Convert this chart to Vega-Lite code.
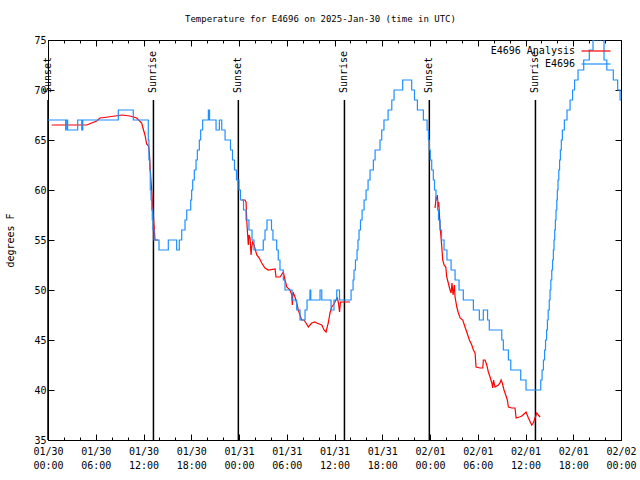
{
"$schema": "https://vega.github.io/schema/vega-lite/v6.json",
"autosize": {"type": "none"},
"padding": {"left": 48, "top": 40, "right": 19, "bottom": 40},
"width": 573,
"height": 400,
"background": "white",
"title": {"text": "Temperature for E4696 on 2025-Jan-30 (time in UTC)", "font": "DejaVu Sans Mono", "fontSize": 9, "fontWeight": "normal", "color": "black", "offset": 11, "dx": -14},
"config": {"view": {"stroke": "black", "strokeWidth": 1}, "font": "DejaVu Sans Mono"},
"datasets": {
"sun": [
{"t": "2025-01-30T00:00Z", "e": "Sunset"},
{"t": "2025-01-30T13:15Z", "e": "Sunrise"},
{"t": "2025-01-30T23:55Z", "e": "Sunset"},
{"t": "2025-01-31T13:15Z", "e": "Sunrise"},
{"t": "2025-01-31T23:55Z", "e": "Sunset"},
{"t": "2025-02-01T13:15Z", "e": "Sunrise"}
],
"ana": [
{"t":"2025-01-30T00:28Z","v":66.5,"s":1},{"t":"2025-01-30T04:52Z","v":66.5,"s":1},{"t":"2025-01-30T05:29Z","v":66.7,"s":1},{"t":"2025-01-30T06:07Z","v":66.9,"s":1},{"t":"2025-01-30T06:32Z","v":67.2,"s":1},{"t":"2025-01-30T07:32Z","v":67.3,"s":1},{"t":"2025-01-30T08:25Z","v":67.4,"s":1},{"t":"2025-01-30T09:16Z","v":67.5,"s":1},{"t":"2025-01-30T10:18Z","v":67.4,"s":1},{"t":"2025-01-30T11:09Z","v":67.2,"s":1},{"t":"2025-01-30T11:46Z","v":66.7,"s":1},{"t":"2025-01-30T11:56Z","v":66.2,"s":1},{"t":"2025-01-30T12:11Z","v":65.5,"s":1},{"t":"2025-01-30T12:24Z","v":64.6,"s":1},{"t":"2025-01-30T12:38Z","v":64.4,"s":1},{"t":"2025-01-30T12:45Z","v":63.6,"s":1},{"t":"2025-01-30T12:51Z","v":62,"s":1},{"t":"2025-01-30T12:59Z","v":60.5,"s":1},{"t":"2025-01-30T13:06Z","v":59,"s":1},{"t":"2025-01-30T13:12Z","v":58,"s":1},{"t":"2025-01-30T13:19Z","v":56.5,"s":1},{"t":"2025-01-30T13:27Z","v":55,"s":1},{"t":"2025-01-30T13:49Z","v":55,"s":1},
{"t":"2025-01-31T00:20Z","v":59,"s":2},{"t":"2025-01-31T00:45Z","v":59,"s":2},{"t":"2025-01-31T00:53Z","v":58.8,"s":2},{"t":"2025-01-31T00:59Z","v":56.8,"s":2},{"t":"2025-01-31T01:10Z","v":54.5,"s":2},{"t":"2025-01-31T01:15Z","v":55.5,"s":2},{"t":"2025-01-31T01:23Z","v":55.2,"s":2},{"t":"2025-01-31T01:31Z","v":53.5,"s":2},{"t":"2025-01-31T01:36Z","v":54.3,"s":2},{"t":"2025-01-31T01:43Z","v":54.8,"s":2},{"t":"2025-01-31T01:53Z","v":54.5,"s":2},{"t":"2025-01-31T02:14Z","v":53.5,"s":2},{"t":"2025-01-31T02:33Z","v":53.2,"s":2},{"t":"2025-01-31T02:51Z","v":52.7,"s":2},{"t":"2025-01-31T03:16Z","v":52.2,"s":2},{"t":"2025-01-31T03:41Z","v":52,"s":2},{"t":"2025-01-31T04:32Z","v":52.1,"s":2},{"t":"2025-01-31T04:39Z","v":51.3,"s":2},{"t":"2025-01-31T05:09Z","v":51.3,"s":2},{"t":"2025-01-31T05:34Z","v":51.8,"s":2},{"t":"2025-01-31T05:47Z","v":51,"s":2},{"t":"2025-01-31T06:00Z","v":50.3,"s":2},{"t":"2025-01-31T06:25Z","v":50,"s":2},{"t":"2025-01-31T06:38Z","v":49.5,"s":2},{"t":"2025-01-31T06:42Z","v":48.5,"s":2},{"t":"2025-01-31T06:47Z","v":49.8,"s":2},{"t":"2025-01-31T07:02Z","v":49.3,"s":2},{"t":"2025-01-31T07:15Z","v":48.7,"s":2},{"t":"2025-01-31T07:27Z","v":48,"s":2},{"t":"2025-01-31T07:45Z","v":47.3,"s":2},{"t":"2025-01-31T07:53Z","v":47,"s":2},{"t":"2025-01-31T08:10Z","v":47,"s":2},{"t":"2025-01-31T08:25Z","v":46.7,"s":2},{"t":"2025-01-31T08:43Z","v":46.3,"s":2},{"t":"2025-01-31T09:08Z","v":46.7,"s":2},{"t":"2025-01-31T09:33Z","v":46.8,"s":2},{"t":"2025-01-31T09:46Z","v":46.7,"s":2},{"t":"2025-01-31T10:24Z","v":46.5,"s":2},{"t":"2025-01-31T10:41Z","v":46,"s":2},{"t":"2025-01-31T10:56Z","v":45.8,"s":2},{"t":"2025-01-31T11:13Z","v":46.7,"s":2},{"t":"2025-01-31T11:26Z","v":47.7,"s":2},{"t":"2025-01-31T11:39Z","v":48.3,"s":2},{"t":"2025-01-31T11:56Z","v":48.6,"s":2},{"t":"2025-01-31T12:11Z","v":49,"s":2},{"t":"2025-01-31T12:21Z","v":49.2,"s":2},{"t":"2025-01-31T12:30Z","v":48.7,"s":2},{"t":"2025-01-31T12:38Z","v":47.8,"s":2},{"t":"2025-01-31T12:45Z","v":48.8,"s":2},{"t":"2025-01-31T13:19Z","v":48.8,"s":2},{"t":"2025-01-31T13:57Z","v":48.8,"s":2},
{"t":"2025-02-01T00:38Z","v":58.2,"s":3},{"t":"2025-02-01T00:46Z","v":59.2,"s":3},{"t":"2025-02-01T00:53Z","v":59,"s":3},{"t":"2025-02-01T00:55Z","v":59.5,"s":3},{"t":"2025-02-01T01:01Z","v":58.3,"s":3},{"t":"2025-02-01T01:06Z","v":58.8,"s":3},{"t":"2025-02-01T01:16Z","v":56.3,"s":3},{"t":"2025-02-01T01:23Z","v":55.3,"s":3},{"t":"2025-02-01T01:29Z","v":54.3,"s":3},{"t":"2025-02-01T01:36Z","v":53,"s":3},{"t":"2025-02-01T01:46Z","v":52.5,"s":3},{"t":"2025-02-01T01:59Z","v":52.3,"s":3},{"t":"2025-02-01T02:06Z","v":51.3,"s":3},{"t":"2025-02-01T02:18Z","v":50.7,"s":3},{"t":"2025-02-01T02:31Z","v":50,"s":3},{"t":"2025-02-01T02:39Z","v":49.7,"s":3},{"t":"2025-02-01T02:46Z","v":50.7,"s":3},{"t":"2025-02-01T02:54Z","v":49.5,"s":3},{"t":"2025-02-01T03:04Z","v":50.5,"s":3},{"t":"2025-02-01T03:09Z","v":49.3,"s":3},{"t":"2025-02-01T03:22Z","v":48.3,"s":3},{"t":"2025-02-01T03:34Z","v":47.7,"s":3},{"t":"2025-02-01T03:47Z","v":47.2,"s":3},{"t":"2025-02-01T04:07Z","v":47,"s":3},{"t":"2025-02-01T04:24Z","v":46.3,"s":3},{"t":"2025-02-01T04:37Z","v":45.8,"s":3},{"t":"2025-02-01T04:57Z","v":45,"s":3},{"t":"2025-02-01T05:15Z","v":44.5,"s":3},{"t":"2025-02-01T05:27Z","v":44,"s":3},{"t":"2025-02-01T05:40Z","v":43.7,"s":3},{"t":"2025-02-01T05:47Z","v":42.3,"s":3},{"t":"2025-02-01T06:17Z","v":42.2,"s":3},{"t":"2025-02-01T06:38Z","v":42.2,"s":3},{"t":"2025-02-01T06:42Z","v":43,"s":3},{"t":"2025-02-01T06:55Z","v":43,"s":3},{"t":"2025-02-01T07:08Z","v":42.5,"s":3},{"t":"2025-02-01T07:20Z","v":41.8,"s":3},{"t":"2025-02-01T07:33Z","v":41.3,"s":3},{"t":"2025-02-01T07:46Z","v":40.7,"s":3},{"t":"2025-02-01T07:53Z","v":40.2,"s":3},{"t":"2025-02-01T07:59Z","v":41,"s":3},{"t":"2025-02-01T08:10Z","v":40.3,"s":3},{"t":"2025-02-01T08:35Z","v":40.5,"s":3},{"t":"2025-02-01T08:48Z","v":40.7,"s":3},{"t":"2025-02-01T08:56Z","v":41,"s":3},{"t":"2025-02-01T09:05Z","v":40.7,"s":3},{"t":"2025-02-01T09:18Z","v":40,"s":3},{"t":"2025-02-01T09:31Z","v":39.5,"s":3},{"t":"2025-02-01T09:43Z","v":39,"s":3},{"t":"2025-02-01T09:51Z","v":38.3,"s":3},{"t":"2025-02-01T10:16Z","v":38.2,"s":3},{"t":"2025-02-01T10:41Z","v":38.2,"s":3},{"t":"2025-02-01T10:49Z","v":37.2,"s":3},{"t":"2025-02-01T11:14Z","v":37.3,"s":3},{"t":"2025-02-01T11:32Z","v":37.4,"s":3},{"t":"2025-02-01T11:57Z","v":37.7,"s":3},{"t":"2025-02-01T12:04Z","v":37.8,"s":3},{"t":"2025-02-01T12:22Z","v":37.2,"s":3},{"t":"2025-02-01T12:47Z","v":36.5,"s":3},{"t":"2025-02-01T12:59Z","v":36.7,"s":3},{"t":"2025-02-01T13:12Z","v":37.2,"s":3},{"t":"2025-02-01T13:25Z","v":37.7,"s":3},{"t":"2025-02-01T13:37Z","v":37.5,"s":3},{"t":"2025-02-01T13:50Z","v":37.3,"s":3}
],
"obs": [
{"t":"2025-01-30T00:00Z","v":67},{"t":"2025-01-30T02:13Z","v":66},{"t":"2025-01-30T02:18Z","v":67},{"t":"2025-01-30T02:28Z","v":66},{"t":"2025-01-30T03:44Z","v":67},{"t":"2025-01-30T04:14Z","v":66},{"t":"2025-01-30T04:22Z","v":67},{"t":"2025-01-30T08:50Z","v":68},{"t":"2025-01-30T10:43Z","v":67},{"t":"2025-01-30T12:36Z","v":65},{"t":"2025-01-30T12:41Z","v":63},{"t":"2025-01-30T12:47Z","v":62},{"t":"2025-01-30T12:51Z","v":60},{"t":"2025-01-30T12:57Z","v":59},{"t":"2025-01-30T13:02Z","v":58},{"t":"2025-01-30T13:06Z","v":57},{"t":"2025-01-30T13:12Z","v":56},{"t":"2025-01-30T13:19Z","v":55},{"t":"2025-01-30T13:57Z","v":54},{"t":"2025-01-30T15:07Z","v":55},{"t":"2025-01-30T16:10Z","v":54},{"t":"2025-01-30T16:30Z","v":55},{"t":"2025-01-30T16:48Z","v":56},{"t":"2025-01-30T17:13Z","v":57},{"t":"2025-01-30T17:26Z","v":58},{"t":"2025-01-30T17:56Z","v":59},{"t":"2025-01-30T18:03Z","v":60},{"t":"2025-01-30T18:11Z","v":61},{"t":"2025-01-30T18:23Z","v":62},{"t":"2025-01-30T18:36Z","v":63},{"t":"2025-01-30T18:46Z","v":64},{"t":"2025-01-30T19:01Z","v":65},{"t":"2025-01-30T19:11Z","v":66},{"t":"2025-01-30T19:26Z","v":67},{"t":"2025-01-30T20:09Z","v":68},{"t":"2025-01-30T20:18Z","v":67},{"t":"2025-01-30T21:07Z","v":66},{"t":"2025-01-30T21:32Z","v":67},{"t":"2025-01-30T21:50Z","v":66},{"t":"2025-01-30T22:15Z","v":65},{"t":"2025-01-30T22:56Z","v":64},{"t":"2025-01-30T23:11Z","v":63},{"t":"2025-01-30T23:26Z","v":62},{"t":"2025-01-30T23:41Z","v":61},
{"t":"2025-01-31T00:00Z","v":60},{"t":"2025-01-31T00:11Z","v":59},{"t":"2025-01-31T00:34Z","v":58},{"t":"2025-01-31T00:53Z","v":57},{"t":"2025-01-31T01:15Z","v":56},{"t":"2025-01-31T01:38Z","v":55},{"t":"2025-01-31T01:53Z","v":54},{"t":"2025-01-31T03:03Z","v":55},{"t":"2025-01-31T03:16Z","v":56},{"t":"2025-01-31T03:31Z","v":57},{"t":"2025-01-31T04:05Z","v":56},{"t":"2025-01-31T04:16Z","v":55},{"t":"2025-01-31T04:44Z","v":54},{"t":"2025-01-31T04:56Z","v":53},{"t":"2025-01-31T05:09Z","v":52},{"t":"2025-01-31T05:34Z","v":51},{"t":"2025-01-31T05:47Z","v":50},{"t":"2025-01-31T06:40Z","v":49},{"t":"2025-01-31T07:15Z","v":48},{"t":"2025-01-31T07:40Z","v":47},{"t":"2025-01-31T08:18Z","v":48},{"t":"2025-01-31T08:33Z","v":49},{"t":"2025-01-31T08:55Z","v":50},{"t":"2025-01-31T09:01Z","v":49},{"t":"2025-01-31T10:11Z","v":50},{"t":"2025-01-31T10:24Z","v":49},{"t":"2025-01-31T11:34Z","v":48},{"t":"2025-01-31T11:56Z","v":49},{"t":"2025-01-31T12:17Z","v":50},{"t":"2025-01-31T12:38Z","v":49},{"t":"2025-01-31T14:05Z","v":50},{"t":"2025-01-31T14:20Z","v":51},{"t":"2025-01-31T14:27Z","v":52},{"t":"2025-01-31T14:38Z","v":53},{"t":"2025-01-31T14:50Z","v":54},{"t":"2025-01-31T14:57Z","v":55},{"t":"2025-01-31T15:05Z","v":56},{"t":"2025-01-31T15:16Z","v":57},{"t":"2025-01-31T15:28Z","v":58},{"t":"2025-01-31T15:43Z","v":59},{"t":"2025-01-31T15:58Z","v":60},{"t":"2025-01-31T16:13Z","v":61},{"t":"2025-01-31T16:28Z","v":62},{"t":"2025-01-31T16:53Z","v":63},{"t":"2025-01-31T17:06Z","v":64},{"t":"2025-01-31T17:43Z","v":65},{"t":"2025-01-31T17:56Z","v":66},{"t":"2025-01-31T18:13Z","v":67},{"t":"2025-01-31T18:44Z","v":68},{"t":"2025-01-31T19:12Z","v":69},{"t":"2025-01-31T19:29Z","v":70},{"t":"2025-01-31T20:34Z","v":71},{"t":"2025-01-31T21:42Z","v":70},{"t":"2025-01-31T22:03Z","v":69},{"t":"2025-01-31T22:25Z","v":68},{"t":"2025-01-31T23:10Z","v":67},{"t":"2025-01-31T23:38Z","v":66},{"t":"2025-01-31T23:48Z","v":65},{"t":"2025-01-31T23:55Z","v":64},
{"t":"2025-02-01T00:02Z","v":63},{"t":"2025-02-01T00:13Z","v":62},{"t":"2025-02-01T00:25Z","v":61},{"t":"2025-02-01T00:34Z","v":60},{"t":"2025-02-01T00:45Z","v":59},{"t":"2025-02-01T00:57Z","v":58},{"t":"2025-02-01T01:04Z","v":57},{"t":"2025-02-01T01:16Z","v":56},{"t":"2025-02-01T01:27Z","v":55},{"t":"2025-02-01T01:46Z","v":54},{"t":"2025-02-01T02:08Z","v":53},{"t":"2025-02-01T02:39Z","v":52},{"t":"2025-02-01T03:09Z","v":51},{"t":"2025-02-01T03:39Z","v":50},{"t":"2025-02-01T04:11Z","v":49},{"t":"2025-02-01T05:27Z","v":48},{"t":"2025-02-01T06:12Z","v":47},{"t":"2025-02-01T06:42Z","v":48},{"t":"2025-02-01T07:14Z","v":47},{"t":"2025-02-01T07:27Z","v":46},{"t":"2025-02-01T09:01Z","v":45},{"t":"2025-02-01T09:13Z","v":44},{"t":"2025-02-01T09:51Z","v":43},{"t":"2025-02-01T10:09Z","v":42},{"t":"2025-02-01T11:24Z","v":41},{"t":"2025-02-01T12:04Z","v":40},{"t":"2025-02-01T13:55Z","v":41},{"t":"2025-02-01T14:05Z","v":42},{"t":"2025-02-01T14:15Z","v":43},{"t":"2025-02-01T14:24Z","v":44},{"t":"2025-02-01T14:31Z","v":45},{"t":"2025-02-01T14:39Z","v":46},{"t":"2025-02-01T14:45Z","v":47},{"t":"2025-02-01T14:51Z","v":48},{"t":"2025-02-01T14:59Z","v":49},{"t":"2025-02-01T15:05Z","v":50},{"t":"2025-02-01T15:11Z","v":51},{"t":"2025-02-01T15:18Z","v":52},{"t":"2025-02-01T15:24Z","v":53},{"t":"2025-02-01T15:30Z","v":54},{"t":"2025-02-01T15:35Z","v":55},{"t":"2025-02-01T15:40Z","v":56},{"t":"2025-02-01T15:45Z","v":57},{"t":"2025-02-01T15:50Z","v":58},{"t":"2025-02-01T15:56Z","v":59},{"t":"2025-02-01T16:00Z","v":60},{"t":"2025-02-01T16:05Z","v":61},{"t":"2025-02-01T16:11Z","v":62},{"t":"2025-02-01T16:17Z","v":63},{"t":"2025-02-01T16:23Z","v":64},{"t":"2025-02-01T16:30Z","v":65},{"t":"2025-02-01T16:38Z","v":66},{"t":"2025-02-01T16:53Z","v":67},{"t":"2025-02-01T17:13Z","v":68},{"t":"2025-02-01T17:36Z","v":69},{"t":"2025-02-01T17:55Z","v":70},{"t":"2025-02-01T18:10Z","v":71},{"t":"2025-02-01T18:36Z","v":72},{"t":"2025-02-01T19:19Z","v":73},{"t":"2025-02-01T20:01Z","v":74},{"t":"2025-02-01T20:29Z","v":75},{"t":"2025-02-01T20:44Z","v":76},{"t":"2025-02-01T20:59Z","v":75},{"t":"2025-02-01T21:07Z","v":76},{"t":"2025-02-01T21:22Z","v":75},{"t":"2025-02-01T21:30Z","v":76},{"t":"2025-02-01T21:52Z","v":73},{"t":"2025-02-01T22:13Z","v":72},{"t":"2025-02-01T23:02Z","v":71},{"t":"2025-02-01T23:35Z","v":70},{"t":"2025-02-01T23:53Z","v":69},{"t":"2025-02-02T00:00Z","v":69}
]
},
"resolve": {"axis": {"x": "independent", "y": "independent"}},
"layer": [
{
"data": {"name": "sun"},
"mark": {"type": "rule", "color": "black", "strokeWidth": 1.5},
"encoding": {
"x": {"field": "t", "type": "temporal", "scale": {"type": "utc", "domain": [1738195200000, 1738454400000]},
"axis": {"orient": "top", "labels": false, "title": null, "grid": false, "domainColor": "black", "tickColor": "black",
"tickSize": {"condition": {"test": "utchours(datum.value) % 6 == 0", "value": -6}, "value": -3},
"values": [1738195200000,1738202400000,1738209600000,1738216800000,1738224000000,1738231200000,1738238400000,1738245600000,1738252800000,1738260000000,1738267200000,1738274400000,1738281600000,1738288800000,1738296000000,1738303200000,1738310400000,1738317600000,1738324800000,1738332000000,1738339200000,1738346400000,1738353600000,1738360800000,1738368000000,1738375200000,1738382400000,1738389600000,1738396800000,1738404000000,1738411200000,1738418400000,1738425600000,1738432800000,1738440000000,1738447200000,1738454400000]}},
"y": {"datum": 69, "type": "quantitative", "scale": {"domain": [35, 75], "nice": false, "zero": false},
"axis": {"orient": "right", "labels": false, "title": null, "grid": false, "domainColor": "black", "tickColor": "black", "values": [35, 40, 45, 50, 55, 60, 65, 70, 75], "tickSize": -6}},
"y2": {"datum": 35}
}
},
{
"data": {"name": "sun"},
"mark": {"type": "text", "angle": 270, "align": "left", "baseline": "middle", "font": "DejaVu Sans Mono", "fontSize": 10, "color": "black"},
"encoding": {
"x": {"field": "t", "type": "temporal", "axis": null},
"y": {"datum": 69.7, "type": "quantitative", "axis": null},
"text": {"field": "e"}
}
},
{
"data": {"name": "ana"},
"mark": {"type": "line", "strokeWidth": 1.2, "clip": true},
"encoding": {
"x": {"field": "t", "type": "temporal",
"axis": {"orient": "bottom", "title": null, "grid": false, "domainColor": "black", "tickColor": "black", "labelColor": "black", "labelFont": "DejaVu Sans Mono", "labelFontSize": 10,
"values": [1738195200000,1738202400000,1738209600000,1738216800000,1738224000000,1738231200000,1738238400000,1738245600000,1738252800000,1738260000000,1738267200000,1738274400000,1738281600000,1738288800000,1738296000000,1738303200000,1738310400000,1738317600000,1738324800000,1738332000000,1738339200000,1738346400000,1738353600000,1738360800000,1738368000000,1738375200000,1738382400000,1738389600000,1738396800000,1738404000000,1738411200000,1738418400000,1738425600000,1738432800000,1738440000000,1738447200000,1738454400000],
"labelExpr": "utchours(datum.value) % 6 == 0 ? [utcFormat(datum.value, '%m/%d'), utcFormat(datum.value, '%H:%M')] : ''", "labelOverlap": false, "labelFlush": false, "labelBound": false, "labelBaseline": "top", "labelLineHeight": 14, "labelPadding": 12,
"tickSize": {"condition": {"test": "utchours(datum.value) % 6 == 0", "value": -6}, "value": -3}}},
"y": {"field": "v", "type": "quantitative",
"axis": {"orient": "left", "title": "degrees F", "titleFont": "DejaVu Sans Mono", "titleFontSize": 10, "titleFontWeight": "normal", "titleColor": "black", "titlePadding": 18, "grid": false, "domainColor": "black", "tickColor": "black", "labelColor": "black", "labelFont": "DejaVu Sans Mono", "labelFontSize": 10, "values": [35, 40, 45, 50, 55, 60, 65, 70, 75], "tickSize": -6, "labelPadding": 8}},
"detail": {"field": "s"},
"color": {"datum": "E4696 Analysis", "scale": {"domain": ["E4696 Analysis", "E4696"], "range": ["#ff0000", "#1e90ff"]},
"legend": {"orient": "none", "legendX": 543, "legendY": 6, "title": null, "symbolType": "M-5.8,0H5.8", "symbolSize": 25, "symbolStrokeWidth": 1.2, "labelAlign": "right", "labelOffset": -26, "labelFont": "DejaVu Sans Mono", "labelFontSize": 10, "labelColor": "black", "rowPadding": 3, "padding": 0, "labelLimit": 0}}
}
},
{
"data": {"name": "obs"},
"mark": {"type": "line", "strokeWidth": 1.2, "interpolate": "step-after", "clip": true},
"encoding": {
"x": {"field": "t", "type": "temporal", "axis": null},
"y": {"field": "v", "type": "quantitative", "axis": null},
"color": {"datum": "E4696"}
}
}
]
}
